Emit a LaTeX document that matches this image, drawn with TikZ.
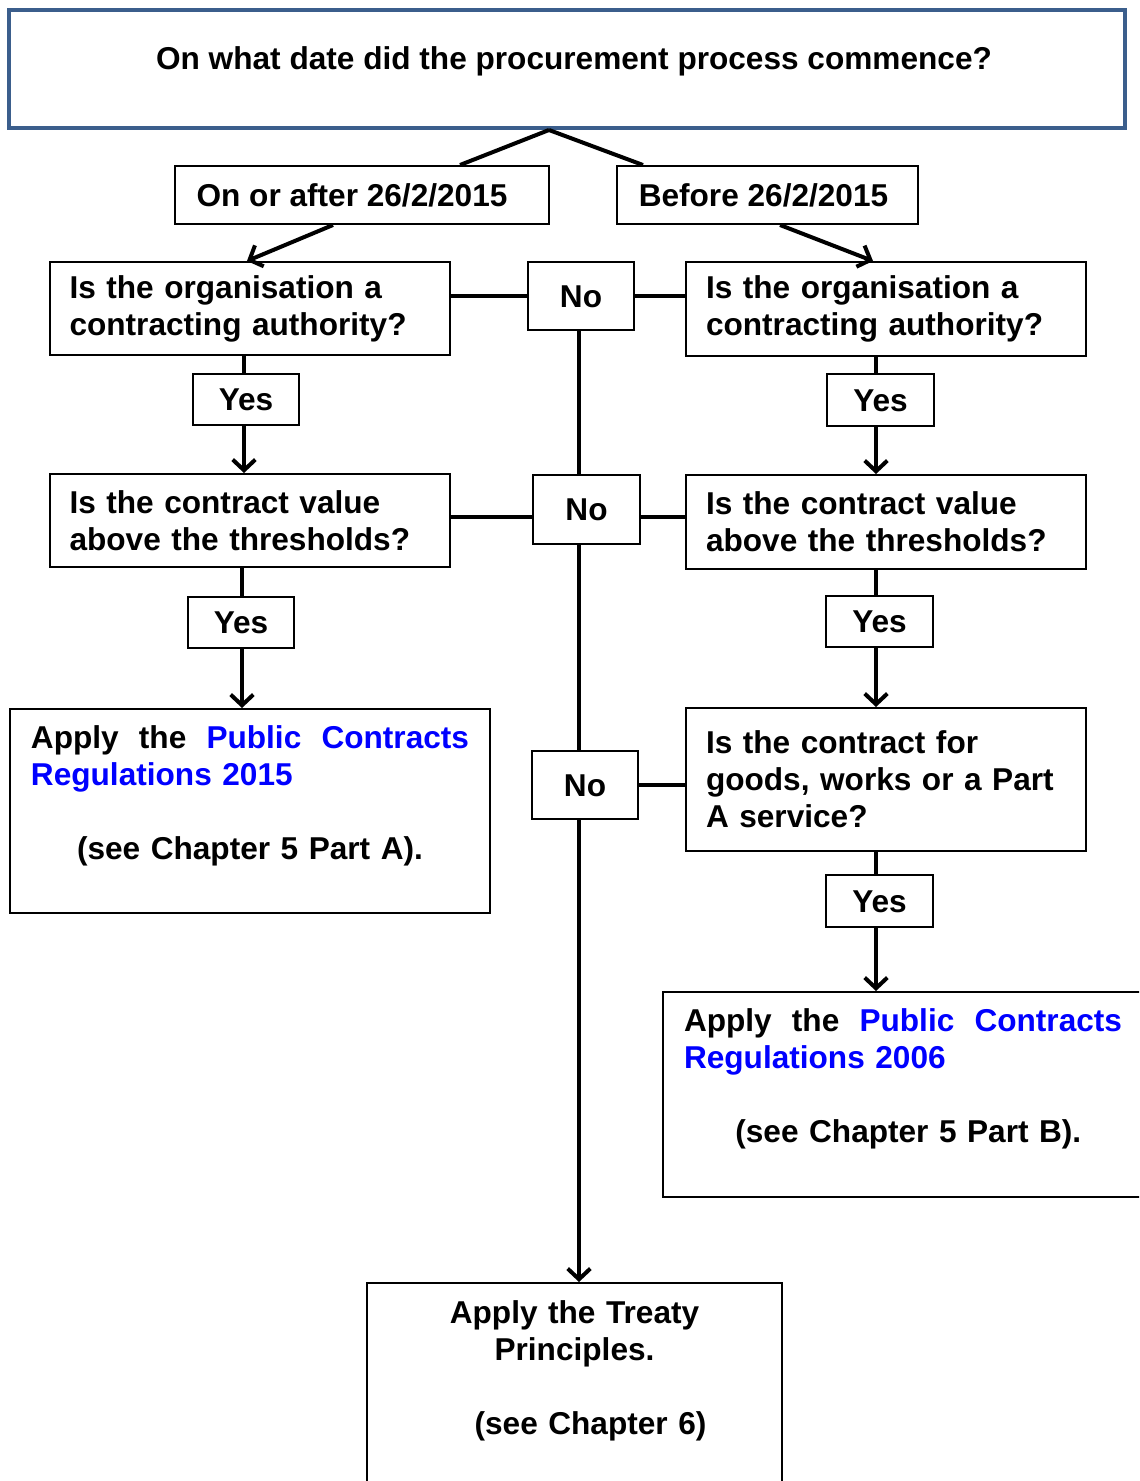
\documentclass[tikz,border=0pt]{standalone}
\usepackage{fontspec}
\setmainfont{Liberation Sans}
\usetikzlibrary{arrows.meta,calc}
\definecolor{topblue}{RGB}{59,94,140}
\definecolor{linkblue}{RGB}{0,0,255}
\begin{document}
\begin{tikzpicture}[x=0.75pt,y=-0.75pt,
  every node/.style={font=\fontsize{23.7pt}{27.75pt}\selectfont\bfseries},
  box/.style={draw=black, line width=1.5pt, inner sep=0pt, fill=white},
  onebox/.style={box, text height=17.2pt, text depth=0pt, align=center},
  qbox/.style={box, text width=270pt, inner xsep=15pt, align=left},
  resbox/.style={box, text width=328.5pt, inner xsep=15.75pt, align=left},
  topbox/.style={draw=topblue, line width=3pt, inner sep=0pt, text height=0pt, text depth=0pt},
  conn/.style={line width=3pt},
  arr/.style={conn, -{Straight Barb[length=8pt,width=17pt]}}]
\useasboundingbox (0,0) rectangle (1139,1481);
\clip (0,0) rectangle (1139,1481);

% boxes
\node[topbox, minimum width=837pt, minimum height=88.5pt] (top) at (567,69)
  {\hspace*{10.5pt}On what date did the procurement process commence?};
\node[onebox, minimum width=280.5pt, minimum height=43.5pt] (date1) at (362,195) {\hspace*{-15pt}On or after 26/2/2015};
\node[onebox, minimum width=225.75pt, minimum height=43.5pt] (date2) at (767.5,195) {\hspace*{-6pt}Before 26/2/2015};

\node[qbox, minimum height=69.75pt] (lq1) at (249.5,308.5) {Is the organisation a\\ contracting authority?};
\node[qbox, minimum height=70.5pt] (rq1) at (886,309) {Is the organisation a\\ contracting authority?};
\node[onebox, minimum width=79.5pt, minimum height=51pt] (no1) at (581,296) {No};

\node[onebox, minimum width=79.5pt, minimum height=38.25pt] (yesl1) at (246,399.5) {Yes};
\node[onebox, minimum width=80.25pt, minimum height=39pt] (yesr1) at (880.5,400) {Yes};

\node[qbox, minimum height=69.75pt] (lq2) at (249.5,520.5) {Is the contract value\\ above the thresholds?};
\node[qbox, minimum height=70.5pt] (rq2) at (886,522) {Is the contract value\\ above the thresholds?};
\node[onebox, minimum width=80.25pt, minimum height=51.75pt] (no2) at (586.5,509.5) {No};

\node[onebox, minimum width=79.5pt, minimum height=38.25pt] (yesl2) at (241,622.5) {Yes};
\node[onebox, minimum width=80.25pt, minimum height=38.25pt] (yesr2) at (879.5,621.5) {Yes};

\node[resbox, minimum width=360pt, minimum height=153pt] (lres) at (250,811)
  {\makebox[\linewidth]{Apply\hfill the\hfill\textcolor{linkblue}{Public}\hfill\textcolor{linkblue}{Contracts}}\\
   \textcolor{linkblue}{Regulations 2015}\\ \mbox{}\\
   \makebox[\linewidth]{(see Chapter 5 Part A).}\\ \mbox{}};
\node[qbox, minimum height=107.25pt] (rq3) at (886,779.5) {Is the contract for\\ goods, works or a Part\\ A service?\\[-3pt]};
\node[onebox, minimum width=79.5pt, minimum height=51pt] (no3) at (585,785) {No};

\node[onebox, minimum width=80.25pt, minimum height=39pt] (yesr3) at (879.5,901) {Yes};

\node[resbox, minimum width=360pt, minimum height=153.75pt] (rres) at (903,1094.5)
  {\makebox[\linewidth]{Apply\hfill the\hfill\textcolor{linkblue}{Public}\hfill\textcolor{linkblue}{Contracts}}\\
   \textcolor{linkblue}{Regulations 2006}\\ \mbox{}\\
   \makebox[\linewidth]{\hspace*{8pt}(see Chapter 5 Part B).}\\ \mbox{}};

\node[box, text width=281.25pt, inner xsep=15pt, align=center, minimum height=154.5pt] (bottom) at (574.5,1386)
  {Apply the Treaty\\ Principles.\\ \mbox{}\\ \hspace*{24pt}(see Chapter 6)\\ \mbox{}};

% helper coordinates
\coordinate (spine) at (579,0);
\coordinate (lcol) at (244,0);
\coordinate (lcolb) at (242,0);
\coordinate (rcol) at (876,0);
\coordinate (mid2) at (0,517);

% connectors
\draw[conn] ([xshift=-13.5pt]top.south) -- ([xshift=73.5pt]date1.north);
\draw[conn] ([xshift=-13.5pt]top.south) -- ([xshift=-93.4pt]date2.north);
\draw[arr] ([xshift=-21.75pt]date1.south) -- ([xshift=-1.9pt]lq1.north);
\draw[arr] ([xshift=9.4pt]date2.south) -- ([xshift=-9.75pt]rq1.north);

\draw[conn] (no1.west) -- (no1.west -| lq1.east);
\draw[conn] (no1.east) -- (no1.east -| rq1.west);
\draw[conn] (no1.south -| spine) -- (no2.north -| spine);
\draw[conn] (mid2 -| no2.west) -- (mid2 -| lq2.east);
\draw[conn] (mid2 -| no2.east) -- (mid2 -| rq2.west);
\draw[conn] (no2.south -| spine) -- (no3.north -| spine);
\draw[conn] (no3.east) -- (no3.east -| rq3.west);
\draw[arr] (no3.south -| spine) -- (bottom.north -| spine);

\draw[conn] (lq1.south -| lcol) -- (yesl1.north -| lcol);
\draw[arr] (yesl1.south -| lcol) -- (lq2.north -| lcol);
\draw[conn] (lq2.south -| lcolb) -- (yesl2.north -| lcolb);
\draw[arr] (yesl2.south -| lcolb) -- (lres.north -| lcolb);

\draw[conn] (rq1.south -| rcol) -- (yesr1.north -| rcol);
\draw[arr] (yesr1.south -| rcol) -- (rq2.north -| rcol);
\draw[conn] (rq2.south -| rcol) -- (yesr2.north -| rcol);
\draw[arr] (yesr2.south -| rcol) -- (rq3.north -| rcol);
\draw[conn] (rq3.south -| rcol) -- (yesr3.north -| rcol);
\draw[arr] (yesr3.south -| rcol) -- (rres.north -| rcol);
\end{tikzpicture}
\end{document}
